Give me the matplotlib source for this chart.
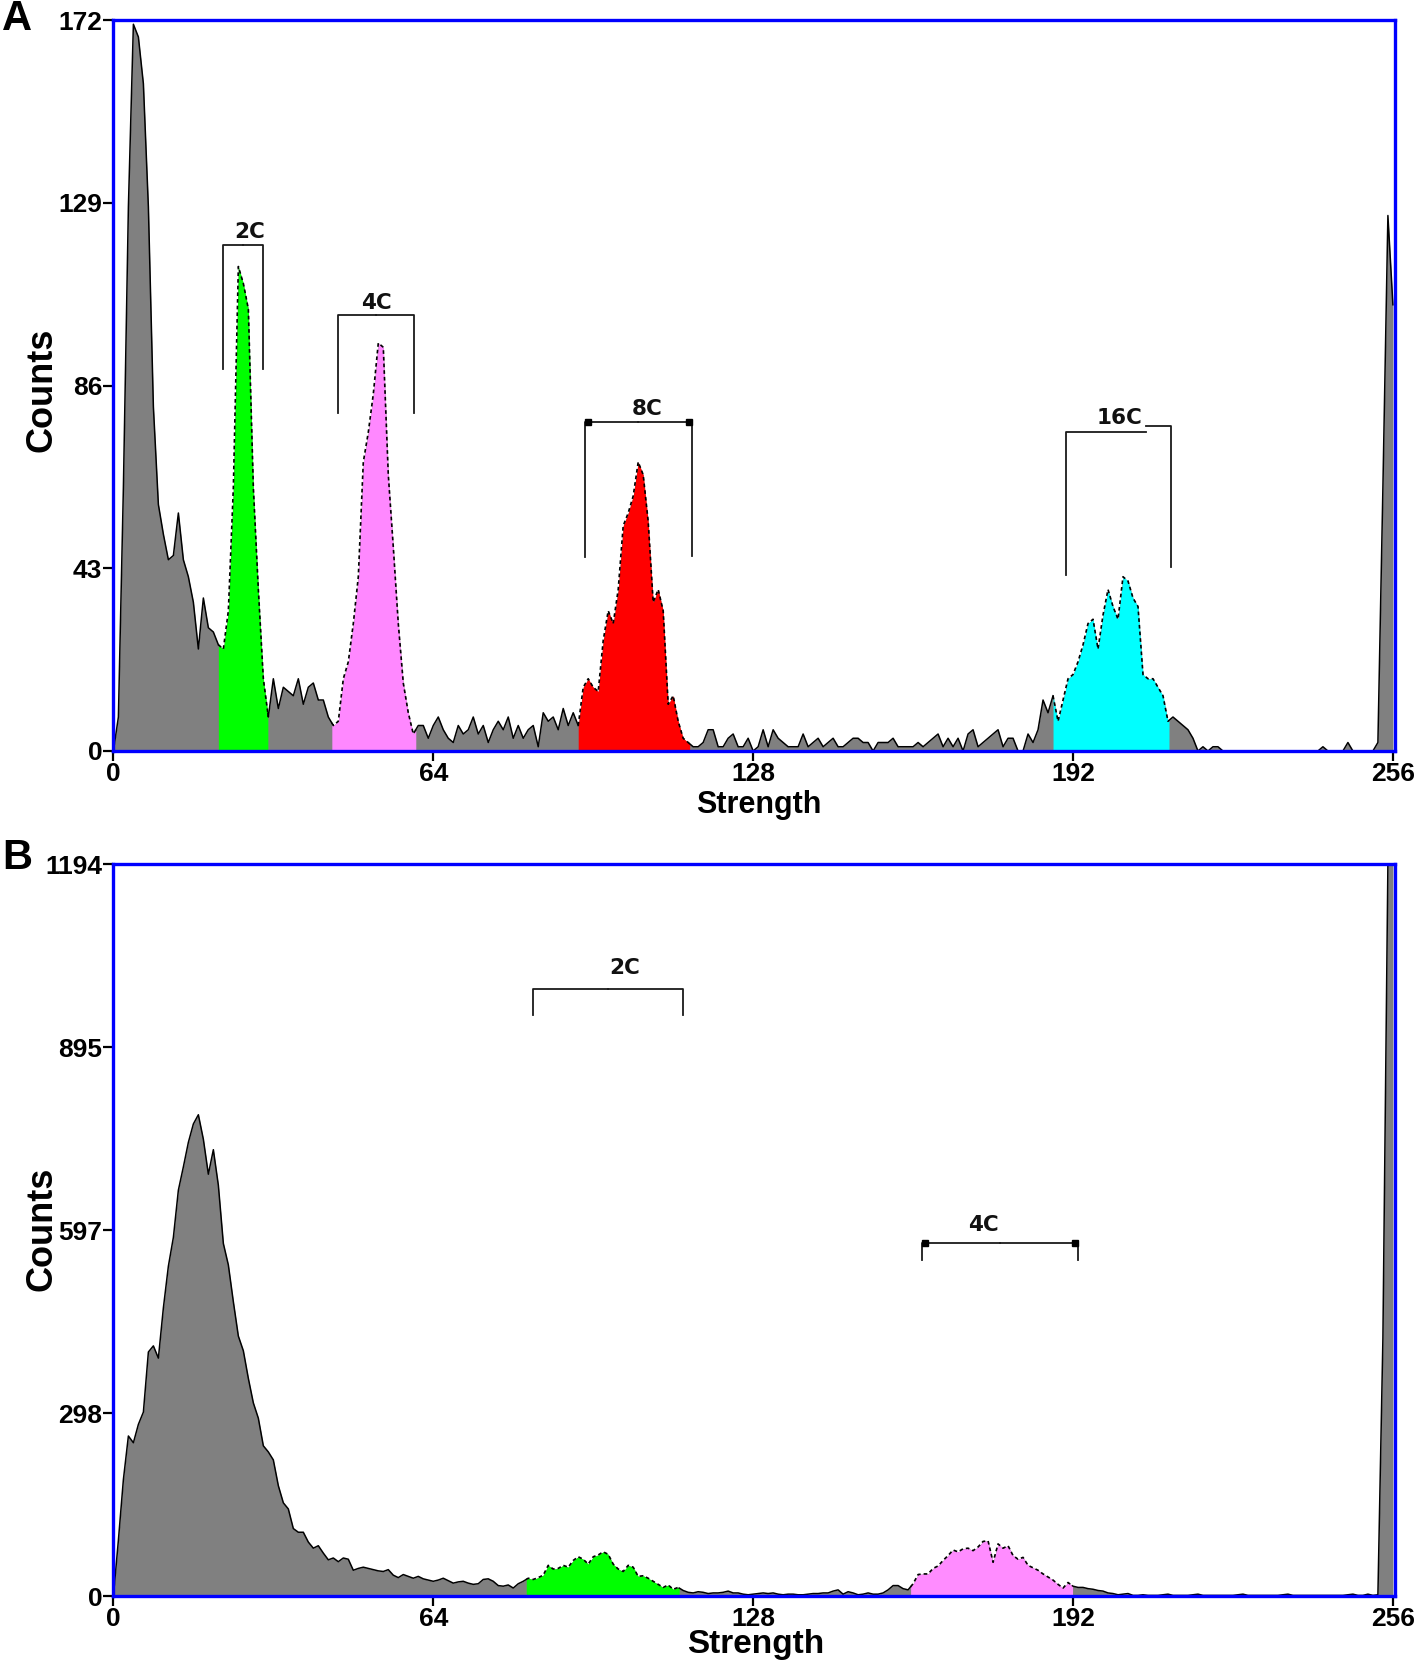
import matplotlib.pyplot as plt
import numpy as np
from matplotlib import font_manager

plt.rcParams['font.family'] = ['Liberation Sans', 'DejaVu Sans']

_names = {f.name for f in font_manager.fontManager.ttflist}
NARROW = 'Liberation Sans Narrow' if 'Liberation Sans Narrow' in _names else 'Liberation Sans'

# ---------------- данные: гистограмма A (каналы 0..256) ----------------
counts_a = [
    0, 8, 62, 128, 171, 168, 157, 128, 81, 58, 51, 45, 46, 56, 45, 41,
    35, 24, 36, 29, 28, 25, 24, 33, 62, 114, 110, 104, 62, 38, 17, 8,
    17, 10, 15, 14, 13, 17, 11, 15, 16, 12, 12, 8, 6, 7, 17, 21,
    30, 41, 68, 75, 84, 96, 95, 65, 48, 30, 16, 9, 4, 6, 6, 3,
    6, 8, 5, 3, 2, 6, 4, 5, 8, 4, 6, 2, 5, 7, 5, 8,
    3, 6, 3, 5, 6, 1, 9, 7, 8, 5, 10, 6, 9, 6, 15, 17,
    15, 14, 26, 33, 30, 38, 53, 56, 60, 68, 65, 54, 35, 38, 33, 11,
    13, 7, 3, 2, 1, 1, 2, 5, 5, 1, 1, 3, 4, 1, 1, 3,
    0, 1, 5, 1, 5, 3, 2, 1, 1, 1, 4, 1, 2, 3, 1, 2,
    3, 1, 1, 2, 3, 3, 2, 2, 0, 2, 2, 2, 3, 1, 1, 1,
    1, 2, 1, 2, 3, 4, 1, 3, 1, 3, 0, 4, 5, 1, 2, 3,
    4, 5, 1, 3, 3, 0, 0, 4, 2, 5, 12, 9, 13, 7, 12, 17,
    18, 21, 25, 30, 31, 24, 32, 38, 34, 31, 41, 40, 36, 34, 18, 17,
    17, 15, 13, 7, 8, 7, 6, 5, 3, 0, 1, 0, 1, 1, 0, 0,
    0, 0, 0, 0, 0, 0, 0, 0, 0, 0, 0, 0, 0, 0, 0, 0,
    0, 0, 1, 0, 0, 0, 0, 2, 0, 0, 0, 0, 0, 2, 62, 126,
    105,
]

# ---------------- данные: гистограмма B ----------------
counts_b = [
    0, 91, 190, 261, 250, 280, 300, 398, 408, 388, 470, 538, 585, 662, 700, 740,
    770, 785, 745, 688, 728, 670, 575, 540, 480, 424, 400, 355, 315, 290, 245, 235,
    222, 180, 152, 142, 110, 104, 104, 88, 78, 82, 70, 59, 62, 56, 62, 60,
    42, 45, 47, 45, 43, 41, 40, 43, 34, 30, 35, 32, 29, 32, 28, 26,
    24, 26, 29, 25, 21, 23, 24, 21, 19, 20, 27, 28, 24, 17, 16, 18,
    13, 20, 24, 29, 27, 30, 34, 50, 44, 45, 50, 47, 58, 64, 60, 52,
    64, 67, 72, 68, 52, 44, 40, 50, 47, 32, 33, 29, 24, 19, 14, 18,
    11, 14, 9, 6, 5, 7, 6, 4, 5, 5, 6, 8, 5, 5, 3, 2,
    3, 4, 5, 4, 5, 3, 2, 3, 3, 2, 2, 3, 4, 4, 5, 5,
    8, 10, 3, 7, 5, 2, 3, 5, 3, 3, 5, 10, 17, 17, 12, 10,
    20, 35, 36, 36, 45, 49, 58, 66, 75, 72, 77, 78, 74, 80, 89, 90,
    55, 85, 78, 82, 66, 60, 63, 50, 46, 42, 36, 31, 26, 19, 13, 22,
    16, 14, 14, 12, 11, 9, 8, 5, 4, 2, 3, 4, 1, 1, 2, 1,
    1, 1, 2, 3, 1, 1, 1, 1, 2, 3, 1, 1, 1, 1, 1, 1,
    1, 2, 3, 1, 1, 1, 1, 1, 1, 1, 2, 3, 1, 1, 1, 1,
    1, 1, 1, 1, 1, 1, 1, 2, 3, 1, 1, 3, 1, 2, 420, 1194,
    1194,
]

# области окраски (каналы)
regions_a = [(21.0, 30.9), (43.7, 60.5), (93.0, 115.3), (188.0, 211.2)]
region_colors_a = ['#00ff00', '#ff88ff', '#ff0000', '#00ffff']
regions_b = [(82.6, 113.2), (159.5, 191.9)]
region_colors_b = ['#00ff00', '#ff8cff']

# гейты (скобки)
gate_labels_a = ['2C', '4C', '8C', '16C']
gate_lo_a = [22.0, 44.9, 94.3, 190.5]
gate_hi_a = [30.0, 60.2, 115.7, 211.7]
gate_split_a = [26.0, 52.5, 105.0, 206.6]
gate_top_l_a = [119, 102.6, 77.3, 75.1]
gate_top_r_a = [119, 102.6, 77.3, 76.5]
gate_leg_l_a = [90, 79.5, 45.7, 41.4]
gate_leg_r_a = [90, 79.5, 45.8, 43.4]
gate_tx_a = [27.3, 52.7, 106.7, 201.2]
gate_ty_a = [122, 105.4, 80.5, 78.3]
gate_caps_a = [False, False, True, False]

gate_labels_b = ['2C', '4C']
gate_lo_b = [83.9, 161.7]
gate_hi_b = [114.0, 192.9]
gate_split_b = [99.0, 177.3]
gate_top_l_b = [990, 576]
gate_top_r_b = [990, 576]
gate_leg_l_b = [948, 548]
gate_leg_r_b = [948, 548]
gate_tx_b = [102.2, 174.0]
gate_ty_b = [1025, 605]
gate_caps_b = [False, True]

yticks_a = [0, 43, 86, 129, 172]
yticks_b = [0, 298, 597, 895, 1194]
xticks = [0, 64, 128, 192, 256]

W, H = 1418, 1662


def segment(x, y, a, b):
    xs = np.r_[a, x[(x > a) & (x < b)], b]
    return xs, np.interp(xs, x, y)


def draw_panel(ax, counts, regions, colors, gates, ymax, yticks):
    y = np.array(counts, dtype=float)
    x = np.arange(len(y), dtype=float)

    ax.fill_between(x, y, color='#808080', lw=0, zorder=1)
    for (a, b), c in zip(regions, colors):
        xs, ys = segment(x, y, a, b)
        ax.fill_between(xs, ys, color=c, lw=0, zorder=1.2)
        ax.plot(xs, ys, color='black', lw=1.2, ls=(0, (2.2, 1.8)), zorder=2)

    # серые участки - сплошной контур
    edges = [0.0] + [v for r in regions for v in r] + [x[-1]]
    for a, b in zip(edges[0::2], edges[1::2]):
        xs, ys = segment(x, y, a, b)
        ax.plot(xs, ys, color='black', lw=1.1, zorder=2)

    labels, lo, hi, split, tl, tr, ll, lr, tx, ty, caps = gates
    for i in range(len(labels)):
        ax.plot([lo[i], lo[i], split[i]], [ll[i], tl[i], tl[i]], color='#1a1a1a', lw=1.3, zorder=3)
        ax.plot([split[i], hi[i], hi[i]], [tr[i], tr[i], lr[i]], color='#1a1a1a', lw=1.3, zorder=3)
        if caps[i]:
            ax.plot([lo[i] + 0.6, hi[i] - 0.6], [tl[i], tr[i]], ls='none', marker='s',
                    ms=4, color='black', zorder=3)
        ax.text(tx[i], ty[i], labels[i], ha='center', va='center', fontsize=15.5,
                fontweight='bold', family='DejaVu Sans', color='#111111', zorder=4)

    ax.set_xlim(0, 256.5)
    ax.set_ylim(0, ymax)
    ax.set_xticks(xticks)
    ax.set_yticks(yticks)
    ax.set_xticklabels([str(t) for t in xticks])
    ax.set_yticklabels([str(t) for t in yticks])
    ax.tick_params(direction='out', length=7, width=1.6, color='black', pad=1,
                   labelsize=19)
    for lab in ax.get_xticklabels() + ax.get_yticklabels():
        lab.set_family(NARROW)
        lab.set_fontweight('bold')
    for s in ax.spines.values():
        s.set_color('#0000ff')
        s.set_linewidth(2.4)
        s.set_zorder(5)


fig = plt.figure(figsize=(W / 100, H / 100), dpi=100)
ax_a = fig.add_axes([113.4 / W, 1 - 751 / H, 1282 / W, 731 / H])
ax_b = fig.add_axes([113.4 / W, 1 - 1596 / H, 1282 / W, 732 / H])

draw_panel(ax_a, counts_a, regions_a, region_colors_a,
           (gate_labels_a, gate_lo_a, gate_hi_a, gate_split_a, gate_top_l_a, gate_top_r_a,
            gate_leg_l_a, gate_leg_r_a, gate_tx_a, gate_ty_a, gate_caps_a), 172, yticks_a)
draw_panel(ax_b, counts_b, regions_b, region_colors_b,
           (gate_labels_b, gate_lo_b, gate_hi_b, gate_split_b, gate_top_l_b, gate_top_r_b,
            gate_leg_l_b, gate_leg_r_b, gate_tx_b, gate_ty_b, gate_caps_b), 1194, yticks_b)

# подписи осей и панелей
for yc in (390, 1229):
    fig.text(42 / W, 1 - yc / H, 'Counts', rotation=90, ha='center', va='center',
             fontsize=26, fontweight='bold')
fig.text(759 / W, 1 - 805 / H, 'Strength', ha='center', va='center', fontsize=22, fontweight='bold')
fig.text(756 / W, 1 - 1645 / H, 'Strength', ha='center', va='center', fontsize=24,
         fontweight='bold', family=NARROW)
fig.text(17 / W, 1 - 19 / H, 'A', ha='center', va='center', fontsize=30, fontweight='bold')
fig.text(17 / W, 1 - 858 / H, 'B', ha='center', va='center', fontsize=30, fontweight='bold')

fig.savefig('out.png', dpi=100)
